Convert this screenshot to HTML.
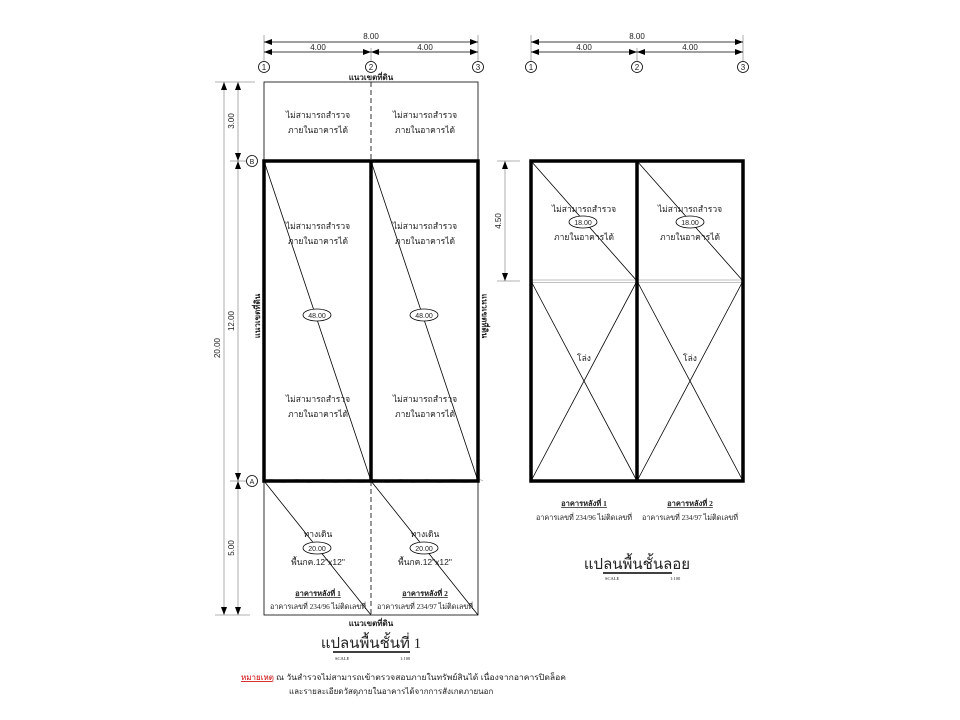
<!DOCTYPE html>
<html><head><meta charset="utf-8"><style>
body{margin:0;background:#fff}
svg{display:block}
text{font-family:"Liberation Sans","Noto Sans CJK SC",sans-serif;fill:#222}
.th{font-family:"Liberation Serif","Noto Serif CJK SC",serif}
</style></head><body>
<svg width="960" height="720" viewBox="0 0 960 720" xmlns="http://www.w3.org/2000/svg">
<defs>
<marker id="ar" markerWidth="8" markerHeight="6" refX="8" refY="3" orient="auto-start-reverse" markerUnits="userSpaceOnUse"><path d="M0,0 L8,3 L0,6z" fill="#000"/></marker>
</defs>
<g stroke="#999" stroke-width="0.8" fill="none">
<line x1="264" y1="35" x2="264" y2="62"/><line x1="371" y1="48" x2="371" y2="62"/><line x1="478" y1="35" x2="478" y2="62"/>
<line x1="531" y1="35" x2="531" y2="62"/><line x1="637" y1="48" x2="637" y2="62"/><line x1="743" y1="35" x2="743" y2="62"/>
<line x1="215" y1="82" x2="255" y2="82"/><line x1="230" y1="161" x2="246" y2="161"/><line x1="230" y1="481" x2="246" y2="481"/><line x1="215" y1="615" x2="250" y2="615"/>
<line x1="497" y1="161" x2="520" y2="161"/><line x1="497" y1="281" x2="520" y2="281"/>
</g>
<g stroke="#000" stroke-width="0.8" fill="none">
<line x1="264" y1="42" x2="478" y2="42" marker-start="url(#ar)" marker-end="url(#ar)"/>
<line x1="264" y1="52" x2="371" y2="52" marker-start="url(#ar)" marker-end="url(#ar)"/>
<line x1="371" y1="52" x2="478" y2="52" marker-start="url(#ar)" marker-end="url(#ar)"/>
<line x1="531" y1="42" x2="743" y2="42" marker-start="url(#ar)" marker-end="url(#ar)"/>
<line x1="531" y1="52" x2="637" y2="52" marker-start="url(#ar)" marker-end="url(#ar)"/>
<line x1="637" y1="52" x2="743" y2="52" marker-start="url(#ar)" marker-end="url(#ar)"/>
<line x1="224" y1="82" x2="224" y2="615" stroke="#999" marker-start="url(#ar)" marker-end="url(#ar)"/>
<line x1="238" y1="82" x2="238" y2="161" stroke="#999" marker-start="url(#ar)" marker-end="url(#ar)"/>
<line x1="238" y1="161" x2="238" y2="481" stroke="#999" marker-start="url(#ar)" marker-end="url(#ar)"/>
<line x1="238" y1="481" x2="238" y2="615" stroke="#999" marker-start="url(#ar)" marker-end="url(#ar)"/>
<line x1="505" y1="161" x2="505" y2="281" stroke="#999" marker-start="url(#ar)" marker-end="url(#ar)"/>
<circle cx="264" cy="67" r="5.5"/><circle cx="371" cy="67" r="5.5"/><circle cx="478" cy="67" r="5.5"/>
<circle cx="531" cy="67" r="5.5"/><circle cx="637" cy="67" r="5.5"/><circle cx="743" cy="67" r="5.5"/>
<circle cx="252" cy="161" r="5.5"/><circle cx="252" cy="481" r="5.5"/>
<rect x="264" y="82" width="214" height="533"/>
<line x1="371" y1="82" x2="371" y2="161" stroke-dasharray="5,3"/>
<line x1="371" y1="481" x2="371" y2="615" stroke-dasharray="5,3"/>
<line x1="264" y1="161" x2="371" y2="481"/><line x1="371" y1="161" x2="478" y2="481"/>
<line x1="264" y1="481" x2="371" y2="615"/><line x1="371" y1="481" x2="478" y2="615"/>
<line x1="531" y1="161" x2="637" y2="281"/><line x1="637" y1="161" x2="743" y2="281"/>
<line x1="531" y1="281" x2="637" y2="481"/><line x1="637" y1="281" x2="531" y2="481"/>
<line x1="637" y1="281" x2="743" y2="481"/><line x1="743" y1="281" x2="637" y2="481"/>
</g>
<g stroke="#aaa" stroke-width="0.7" fill="none">
<path d="M264,481 q7,-3 13,0 t13,0 t13,0 t13,0 t13,0 t13,0 t13,0 t13,0 t13,0 t13,0 t13,0 t13,0 t13,0 t13,0 t13,0 t13,0 t11,0"/>
<line x1="531" y1="280" x2="743" y2="280"/><line x1="531" y1="282.5" x2="743" y2="282.5"/>
</g>
<g stroke="#000" stroke-width="3.5" fill="none">
<rect x="264" y="161" width="214" height="320"/>
<line x1="371" y1="161" x2="371" y2="481"/>
<rect x="531" y="161" width="212" height="320"/>
<line x1="637" y1="161" x2="637" y2="481"/>
</g>
<g fill="#fff" stroke="#000" stroke-width="0.8">
<ellipse cx="317" cy="315" rx="14" ry="6"/><ellipse cx="424" cy="315" rx="14" ry="6"/>
<ellipse cx="317" cy="548" rx="14" ry="6"/><ellipse cx="424" cy="548" rx="14" ry="6"/>
<ellipse cx="583" cy="222" rx="14" ry="6"/><ellipse cx="690" cy="222" rx="14" ry="6"/>
</g>
<g font-size="8" text-anchor="middle">
<text x="371" y="39">8.00</text><text x="318" y="50">4.00</text><text x="425" y="50">4.00</text>
<text x="637" y="39">8.00</text><text x="584" y="50">4.00</text><text x="690" y="50">4.00</text>
<text x="264" y="70">1</text><text x="371" y="70">2</text><text x="478" y="70">3</text>
<text x="531" y="70">1</text><text x="637" y="70">2</text><text x="743" y="70">3</text>
<text x="252" y="164" font-size="7">B</text><text x="252" y="484" font-size="7">A</text>
<text transform="translate(234,121) rotate(-90)">3.00</text>
<text transform="translate(234,321) rotate(-90)">12.00</text>
<text transform="translate(234,548) rotate(-90)">5.00</text>
<text transform="translate(220,348) rotate(-90)">20.00</text>
<text transform="translate(501,221) rotate(-90)">4.50</text>
<text x="317" y="318" font-size="7">48.00</text><text x="424" y="318" font-size="7">48.00</text>
<text x="317" y="551" font-size="7">20.00</text><text x="424" y="551" font-size="7">20.00</text>
<text x="583" y="225" font-size="7">18.00</text><text x="690" y="225" font-size="7">18.00</text>
</g>
<g font-size="8.5" text-anchor="middle" style="fill:#333">
<text x="318" y="118">ไม่สามารถสำรวจ</text><text x="318" y="133">ภายในอาคารได้</text>
<text x="425" y="118">ไม่สามารถสำรวจ</text><text x="425" y="133">ภายในอาคารได้</text>
<text x="318" y="229">ไม่สามารถสำรวจ</text><text x="318" y="244">ภายในอาคารได้</text>
<text x="425" y="229">ไม่สามารถสำรวจ</text><text x="425" y="244">ภายในอาคารได้</text>
<text x="318" y="402">ไม่สามารถสำรวจ</text><text x="318" y="417">ภายในอาคารได้</text>
<text x="425" y="402">ไม่สามารถสำรวจ</text><text x="425" y="417">ภายในอาคารได้</text>
<text x="318" y="537">ทางเดิน</text><text x="318" y="565">พื้นกค.12"x12"</text>
<text x="425" y="537">ทางเดิน</text><text x="425" y="565">พื้นกค.12"x12"</text>
<text x="584" y="212">ไม่สามารถสำรวจ</text><text x="584" y="240">ภายในอาคารได้</text>
<text x="690" y="212">ไม่สามารถสำรวจ</text><text x="690" y="240">ภายในอาคารได้</text>
<text x="584" y="361">โล่ง</text><text x="690" y="361">โล่ง</text>
</g>
<g font-size="8" text-anchor="middle" font-weight="bold">
<text x="371" y="80">แนวเขตที่ดิน</text>
<text x="371" y="626">แนวเขตที่ดิน</text>
<text transform="translate(260,316) rotate(-90)">แนวเขตที่ดิน</text>
<text transform="translate(482,316) rotate(90)">แนวเขตที่ดิน</text>
</g>
<g font-size="7.5" text-anchor="middle">
<text x="318" y="596" font-weight="bold" text-decoration="underline" class="th">อาคารหลังที่ 1</text>
<text x="318" y="609" class="th" textLength="96" lengthAdjust="spacingAndGlyphs">อาคารเลขที่ 234/96 ไม่ติดเลขที่</text>
<text x="425" y="596" font-weight="bold" text-decoration="underline" class="th">อาคารหลังที่ 2</text>
<text x="425" y="609" class="th" textLength="96" lengthAdjust="spacingAndGlyphs">อาคารเลขที่ 234/97 ไม่ติดเลขที่</text>
<text x="584" y="506" font-weight="bold" text-decoration="underline" class="th">อาคารหลังที่ 1</text>
<text x="584" y="520" class="th" textLength="96" lengthAdjust="spacingAndGlyphs">อาคารเลขที่ 234/96 ไม่ติดเลขที่</text>
<text x="690" y="506" font-weight="bold" text-decoration="underline" class="th">อาคารหลังที่ 2</text>
<text x="690" y="520" class="th" textLength="96" lengthAdjust="spacingAndGlyphs">อาคารเลขที่ 234/97 ไม่ติดเลขที่</text>
<text x="371" y="648" font-size="15" class="th">แปลนพื้นชั้นที่ 1</text>
<text x="637" y="569" font-size="15" class="th">แปลนพื้นชั้นลอย</text>
</g>
<line x1="333" y1="652" x2="410" y2="652" stroke="#000" stroke-width="1.5"/>
<line x1="603" y1="573" x2="672" y2="573" stroke="#000" stroke-width="1.5"/>
<g font-size="4.5">
<text x="335" y="660" class="th">SCALE</text><text x="400" y="660" class="th">1:100</text>
<text x="605" y="580" class="th">SCALE</text><text x="670" y="580" class="th">1:100</text>
</g>
<g font-size="8">
<text x="241" y="680" style="fill:#c00" text-decoration="underline">หมายเหตุ</text>
<text x="276" y="680" textLength="290" lengthAdjust="spacingAndGlyphs">ณ วันสำรวจไม่สามารถเข้าตรวจสอบภายในทรัพย์สินได้ เนื่องจากอาคารปิดล็อค</text>
<text x="289" y="694">และรายละเอียดวัสดุภายในอาคารได้จากการสังเกตภายนอก</text>
</g>
</svg>
</body></html>
